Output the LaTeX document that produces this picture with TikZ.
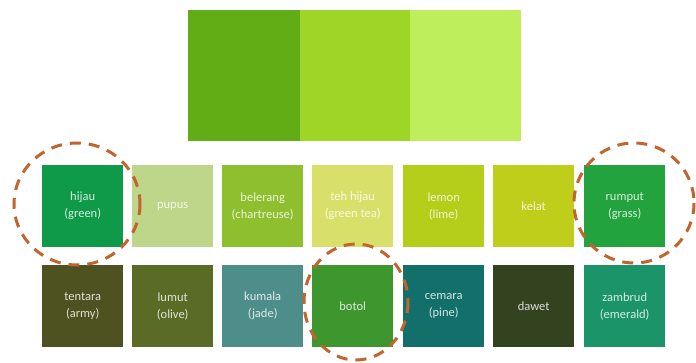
\documentclass[tikz,border=0pt]{standalone}
\usepackage{fontspec}
\setmainfont{Carlito}
\definecolor{topA}{HTML}{62AD15}
\definecolor{topB}{HTML}{9ED628}
\definecolor{topC}{HTML}{BFEE5C}
\definecolor{cHijau}{HTML}{0E9A48}
\definecolor{cPupus}{HTML}{BDD68A}
\definecolor{cBelerang}{HTML}{8DBF2E}
\definecolor{cTeh}{HTML}{D9E06A}
\definecolor{cLemon}{HTML}{B5CE1A}
\definecolor{cKelat}{HTML}{BFCD1B}
\definecolor{cRumput}{HTML}{22A33E}
\definecolor{cTentara}{HTML}{4E5220}
\definecolor{cLumut}{HTML}{5A6B25}
\definecolor{cKumala}{HTML}{4D8D8A}
\definecolor{cBotol}{HTML}{3E962F}
\definecolor{cCemara}{HTML}{136F6A}
\definecolor{cDawet}{HTML}{34431F}
\definecolor{cZambrud}{HTML}{1A9468}
\definecolor{ring}{HTML}{C0652E}
\tikzset{
  tile/.style={fill=#1, draw=none, minimum width=81pt, minimum height=82pt, inner sep=0pt,
    text=white!82!#1, align=center, font=\fontsize{12.5}{17}\selectfont, anchor=north west},
  ringstyle/.style={draw=ring, line width=3pt, dash pattern=on 11pt off 8pt},
}
\begin{document}
\begin{tikzpicture}[x=1pt,y=-1pt]
\useasboundingbox[fill=white] (0,0) rectangle (696,363);
% top strip
\fill[topA] (188,10) rectangle (300,141);
\fill[topB] (300,10) rectangle (410,141);
\fill[topC] (410,10) rectangle (521,141);
% row 1
\node[tile=cHijau] (hijau) at (42,165) {hijau\\(green)};
\node[tile=cPupus] (pupus) at (132,165) {pupus};
\node[tile=cBelerang] (belerang) at (222,165) {belerang\\(chartreuse)};
\node[tile=cTeh] (teh) at (312,165) {teh hijau\\(green tea)};
\node[tile=cLemon] (lemon) at (403,165) {lemon\\(lime)};
\node[tile=cKelat] (kelat) at (493,165) {kelat};
\node[tile=cRumput] (rumput) at (584,165) {rumput\\(grass)};
% row 2
\node[tile=cTentara] (tentara) at (42,265) {tentara\\(army)};
\node[tile=cLumut] (lumut) at (132,265) {lumut\\(olive)};
\node[tile=cKumala] (kumala) at (222,265) {kumala\\(jade)};
\node[tile=cBotol] (botol) at (312,265) {botol};
\node[tile=cCemara] (cemara) at (403,265) {cemara\\(pine)};
\node[tile=cDawet] (dawet) at (493,265) {dawet};
\node[tile=cZambrud] (zambrud) at (584,265) {zambrud\\(emerald)};
% rings
\draw[ringstyle] (77,204) ellipse [x radius=63, y radius=61];
\draw[ringstyle] (634,203) ellipse [x radius=60, y radius=60];
\draw[ringstyle] (356,302) ellipse [x radius=52, y radius=58];
\end{tikzpicture}
\end{document}
